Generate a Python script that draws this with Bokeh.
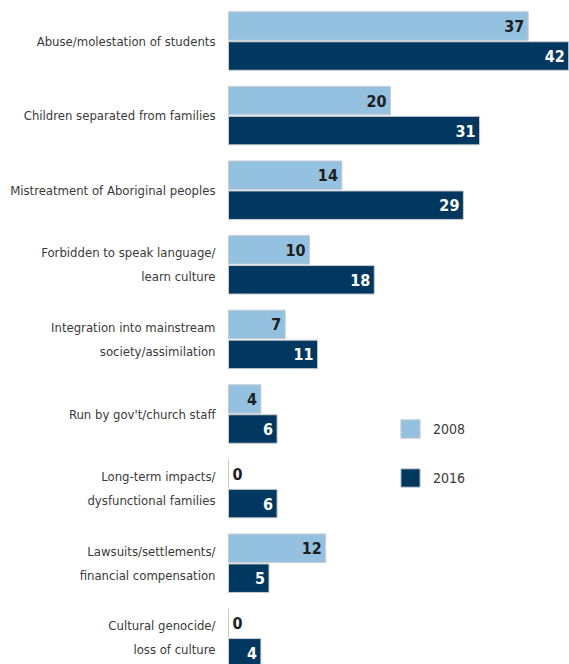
from bokeh.plotting import figure
from bokeh.models import ColumnDataSource, Range1d, Legend, LegendItem
from bokeh.core.properties import value
from bokeh.embed import file_html
from bokeh.resources import INLINE

categories = [
    "Abuse/molestation of students",
    "Children separated from families",
    "Mistreatment of Aboriginal peoples",
    "Forbidden to speak language/\nlearn culture",
    "Integration into mainstream\nsociety/assimilation",
    "Run by gov't/church staff",
    "Long-term impacts/\ndysfunctional families",
    "Lawsuits/settlements/\nfinancial compensation",
    "Cultural genocide/\nloss of culture",
]
values_2008 = [37, 20, 14, 10, 7, 4, 0, 12, 0]
values_2016 = [42, 31, 29, 18, 11, 6, 6, 5, 4]
series_names = ["2008", "2016"]

LIGHT = "#95c1e1"
DARK = "#02385f"
FONT = "DejaVu Sans Condensed"

W, H = 569, 664
PX_PER_UNIT = 8.1
ZERO_PX = 228
GROUP_PX = 74.6
x_start = -ZERO_PX / PX_PER_UNIT
x_end = x_start + W / PX_PER_UNIT
top = 40.5 / GROUP_PX
y_start = top - H / GROUP_PX

n = len(categories)
ypos = [-i for i in range(n)]
off = 15 / GROUP_PX
bh = 28.5 / GROUP_PX

src_a = ColumnDataSource(dict(y=[y + off for y in ypos], v=values_2008))
src_b = ColumnDataSource(dict(y=[y - off for y in ypos], v=values_2016,
                              t=[str(v) for v in values_2016]))
src_c = ColumnDataSource(dict(y=ypos, x=[0] * n, t=categories))

p = figure(width=W, height=H, output_backend="svg", toolbar_location=None,
           x_range=Range1d(x_start, x_end), y_range=Range1d(y_start, top),
           min_border=0)
p.xaxis.visible = False
p.yaxis.visible = False
p.grid.visible = False
p.outline_line_color = None

ra = p.hbar(y="y", right="v", left=0, height=bh, source=src_a,
            fill_color=LIGHT, line_color="#c9cdd2", line_width=1)
rb = p.hbar(y="y", right="v", left=0, height=bh, source=src_b,
            fill_color=DARK, line_color="#c9cdd2", line_width=1)

# category labels
p.text(x="x", y="y", text="t", source=src_c, x_offset=-13,
       text_align="right", text_baseline="middle",
       text_font=value(FONT), text_font_size="13px", text_color="#3a3a3a",
       text_line_height=1.58)

# value labels
nz_a = ColumnDataSource(dict(
    y=[y + off for y, v in zip(ypos, values_2008) if v > 0],
    v=[v for v in values_2008 if v > 0],
    t=[str(v) for v in values_2008 if v > 0]))
z_a = ColumnDataSource(dict(
    y=[y + off for y, v in zip(ypos, values_2008) if v == 0],
    v=[v for v in values_2008 if v == 0],
    t=[str(v) for v in values_2008 if v == 0]))
p.text(x="v", y="y", text="t", source=nz_a, x_offset=-4, text_align="right",
       text_baseline="middle", text_font=value(FONT), text_font_style="bold",
       text_font_size="16px", text_color="#1e1e1e")
p.text(x="v", y="y", text="t", source=z_a, x_offset=4, text_align="left",
       text_baseline="middle", text_font=value(FONT), text_font_style="bold",
       text_font_size="16px", text_color="#1e1e1e")
p.text(x="v", y="y", text="t", source=src_b, x_offset=-4, text_align="right",
       text_baseline="middle", text_font=value(FONT), text_font_style="bold",
       text_font_size="16px", text_color="white")

legend = Legend(items=[LegendItem(label=series_names[0], renderers=[ra]),
                       LegendItem(label=series_names[1], renderers=[rb])],
                location=(398, 175), padding=0, spacing=26,
                glyph_width=24, glyph_height=23, label_standoff=11,
                label_text_font=FONT, label_text_font_size="14px",
                label_text_color="#3a3a3a",
                border_line_alpha=0, background_fill_alpha=0)
p.add_layout(legend, "center")

open("out.html", "w").write(file_html(p, INLINE))
